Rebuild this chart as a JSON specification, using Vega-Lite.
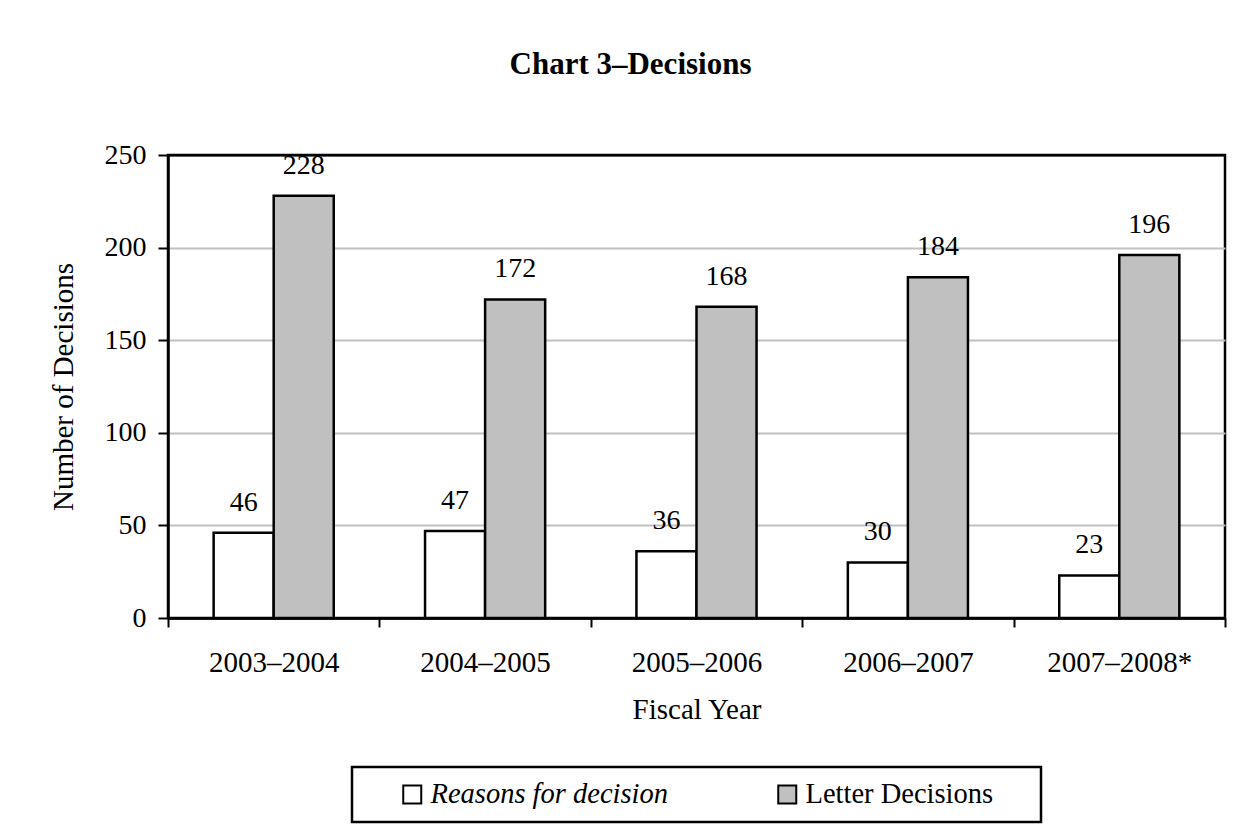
{
  "$schema": "https://vega.github.io/schema/vega-lite/v6.json",
  "autosize": {"type": "none"},
  "padding": {"left": 168, "top": 155, "right": 25, "bottom": 215},
  "width": 1057,
  "height": 463,
  "background": "white",
  "title": {
    "text": "Chart 3–Decisions",
    "font": "Liberation Serif",
    "fontSize": 31,
    "fontWeight": "bold",
    "color": "black",
    "anchor": "middle",
    "dx": -66,
    "offset": 60
  },
  "data": {
    "values": [
      {"year": "2003–2004", "series": "Reasons for decision", "value": 46},
      {"year": "2003–2004", "series": "Letter Decisions", "value": 228},
      {"year": "2004–2005", "series": "Reasons for decision", "value": 47},
      {"year": "2004–2005", "series": "Letter Decisions", "value": 172},
      {"year": "2005–2006", "series": "Reasons for decision", "value": 36},
      {"year": "2005–2006", "series": "Letter Decisions", "value": 168},
      {"year": "2006–2007", "series": "Reasons for decision", "value": 30},
      {"year": "2006–2007", "series": "Letter Decisions", "value": 184},
      {"year": "2007–2008*", "series": "Reasons for decision", "value": 23},
      {"year": "2007–2008*", "series": "Letter Decisions", "value": 196}
    ]
  },
  "encoding": {
    "x": {
      "field": "year",
      "type": "nominal",
      "sort": null,
      "scale": {"paddingInner": 0, "paddingOuter": 0},
      "axis": {
        "title": "Fiscal Year",
        "labelAngle": 0,
        "tickBand": "extent",
        "tickSize": 9,
        "tickWidth": 2,
        "tickColor": "black",
        "domainColor": "black",
        "domainWidth": 2.5,
        "labelPadding": 21,
        "titlePadding": 18,
        "labelFontSize": 29,
        "titleFontSize": 29
      }
    },
    "xOffset": {
      "field": "series",
      "type": "nominal",
      "scale": {"domain": ["Reasons for decision", "Letter Decisions"], "paddingInner": 0, "paddingOuter": 0.76}
    },
    "y": {
      "field": "value",
      "type": "quantitative",
      "scale": {"domain": [0, 250]},
      "axis": {
        "title": "Number of Decisions",
        "values": [0, 50, 100, 150, 200, 250],
        "grid": true,
        "gridColor": {"condition": {"test": "datum.value === 250 || datum.value === 0", "value": "black"}, "value": "#c0c0c0"},
        "gridWidth": 2,
        "tickSize": 10,
        "tickWidth": 2,
        "tickColor": "black",
        "domainColor": "black",
        "domainWidth": 2.5,
        "labelPadding": 12,
        "titlePadding": 26,
        "labelFontSize": 28,
        "titleFontSize": 29
      }
    }
  },
  "layer": [
    {
      "mark": {"type": "bar", "stroke": "black", "strokeWidth": 2.5},
      "encoding": {
        "fill": {
          "field": "series",
          "type": "nominal",
          "scale": {"domain": ["Reasons for decision", "Letter Decisions"], "range": ["#ffffff", "#c0c0c0"]},
          "legend": {
            "orient": "none",
            "legendX": 184,
            "legendY": 612,
            "direction": "horizontal",
            "title": " ",
            "titleOrient": "right",
            "titlePadding": 35,
            "titleFontSize": 10,
            "padding": 13,
            "symbolOffset": 33,
            "columnPadding": 72,
            "labelOffset": 4,
            "labelLimit": 500,
            "labelFontSize": 28.5,
            "labelFont": "Liberation Serif",
            "labelColor": "black",
            "symbolType": "square",
            "symbolSize": 324,
            "symbolStrokeColor": "black",
            "symbolStrokeWidth": 2,
            "symbolOpacity": 1,
            "strokeColor": "black",
            "encode": {
              "labels": {
                "update": {
                  "fontStyle": {"signal": "datum.value === 'Reasons for decision' ? 'italic' : 'normal'"}
                }
              }
            }
          }
        }
      }
    },
    {
      "mark": {"type": "text", "baseline": "alphabetic", "dy": -22, "fontSize": 28, "font": "Liberation Serif", "color": "black"},
      "encoding": {
        "text": {"field": "value", "type": "quantitative"}
      }
    }
  ],
  "config": {
    "font": "Liberation Serif",
    "view": {"stroke": "black", "strokeWidth": 2.5},
    "axis": {
      "labelFont": "Liberation Serif",
      "titleFont": "Liberation Serif",
      "labelColor": "black",
      "titleColor": "black",
      "titleFontWeight": "normal"
    },
    "legend": {"strokeWidth": 2.5}
  }
}
